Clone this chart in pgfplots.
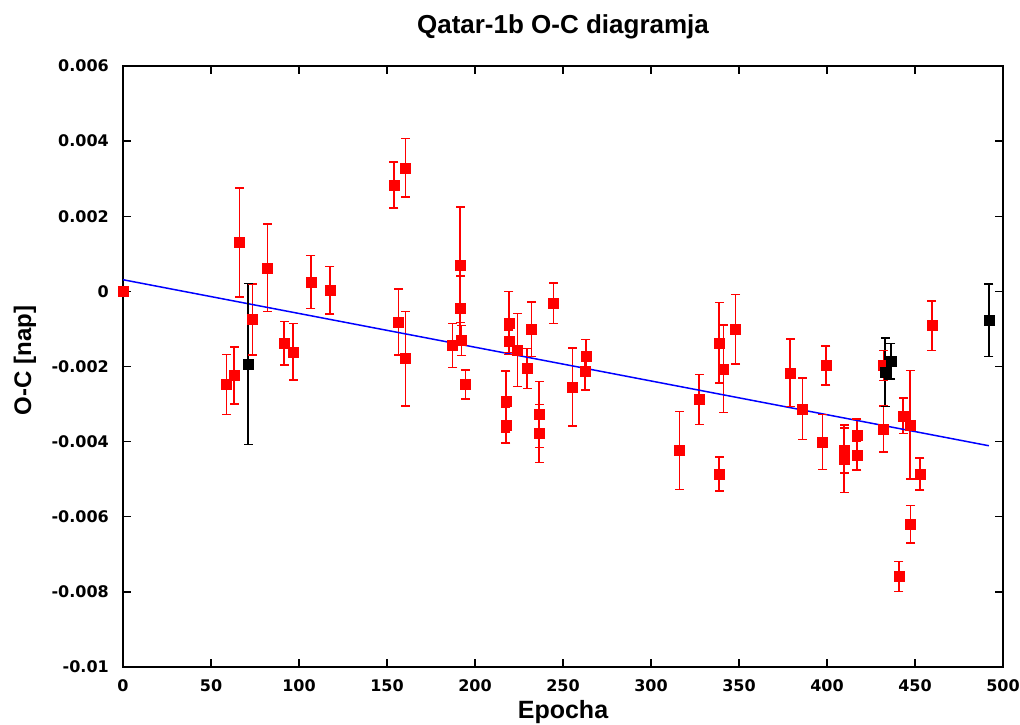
\documentclass[border=0pt]{standalone}
\usepackage{pgfplots}
\usepackage{pgfplotstable}
\pgfplotsset{compat=1.18}
\usepackage{fontspec}
\setmainfont{Liberation Sans}
\newfontfamily\dejavu{DejaVu Sans}

\pgfplotstableread{
x y e
0 0 0.0001
66.1 0.0013 0.00145
82 0.00063 0.00116
106.8 0.00025 0.00071
117.6 0.00003 0.00063
73.5 -0.00075 0.00095
91.5 -0.00138 0.00058
96.6 -0.00161 0.00075
58.9 -0.00248 0.0008
63.1 -0.00224 0.00076
153.9 0.00283 0.00061
160.4 0.00329 0.00078
156.6 -0.00082 0.00088
160.4 -0.00179 0.00126
191.5 0.00071 0.00154
191.5 -0.00046 0.00087
192.4 -0.00131 0.0004
187.3 -0.00144 0.00059
194.7 -0.00248 0.00039
219.3 -0.00084 0.00084
219.3 -0.00133 0.0003
224.2 -0.00156 0.00097
229.7 -0.00205 0.00053
232.2 -0.00101 0.00073
244.5 -0.00032 0.00054
217.6 -0.00293 0.00081
217.6 -0.00356 0.00048
236.4 -0.00328 0.00088
236.4 -0.00378 0.00077
255.3 -0.00255 0.00104
263 -0.00172 0.00044
262.5 -0.00212 0.0005
316.1 -0.00424 0.00104
327.3 -0.00288 0.00067
338.8 -0.00137 0.00107
341.1 -0.00206 0.00117
338.8 -0.00486 0.00045
348.1 -0.00101 0.00093
379 -0.00217 0.0009
386 -0.00313 0.00082
399.3 -0.00197 0.00052
397.5 -0.00401 0.00073
409.7 -0.00424 0.0006
409.7 -0.00446 0.0009
416.9 -0.00382 0.00042
416.9 -0.00437 0.00038
432 -0.00366 0.00061
432 -0.00197 0.0004
443.3 -0.00331 0.00047
447.2 -0.00355 0.00144
452.8 -0.00486 0.00043
447.5 -0.0062 0.0005
440.9 -0.00759 0.0004
459.5 -0.00091 0.00066
}\reddata

\pgfplotstableread{
x y e
71.2 -0.00193 0.00214
433 -0.00215 0.00091
436.2 -0.00186 0.00047
492 -0.00077 0.00096
}\blackdata

\begin{document}
\begin{tikzpicture}
\useasboundingbox (-123pt,-58pt) rectangle (897pt,667pt);
\begin{axis}[
  at={(0,0)}, anchor=south west,
  scale only axis, width=880pt, height=601pt,
  xmin=0, xmax=500, ymin=-0.01, ymax=0.006,
  clip=false,
  xtick={0,50,100,150,200,250,300,350,400,450,500},
  xticklabels={0,50,100,150,200,250,300,350,400,450,500},
  ytick={-0.01,-0.008,-0.006,-0.004,-0.002,0,0.002,0.004,0.006},
  yticklabels={-0.01,-0.008,-0.006,-0.004,-0.002,0,0.002,0.004,0.006},
  scaled y ticks=false, scaled x ticks=false,
  tick align=inside,
  major tick length=8pt,
  major tick style={black, line width=1.3pt},
  axis line style={black, line width=1.6pt},
  xticklabel style={font=\dejavu\bfseries\fontsize{16}{19}\selectfont, inner sep=0pt, anchor=north, yshift=-12pt},
  yticklabel style={font=\dejavu\bfseries\fontsize{16}{19}\selectfont, inner sep=0pt, anchor=east, xshift=-14pt},
  title={Qatar-1b O-C diagramja},
  title style={font=\bfseries\fontsize{26}{30}\selectfont, at={(axis description cs:0.5,1.0433)}, anchor=base, inner sep=0pt},
  xlabel={Epocha},
  xlabel style={font=\bfseries\fontsize{25}{30}\selectfont, at={(axis description cs:0.5,-0.0849)}, anchor=base, inner sep=0pt},
  ylabel={O-C [nap]},
  ylabel style={font=\bfseries\fontsize{24}{30}\selectfont, at={(axis description cs:-0.1114,0.51)}, anchor=center, inner sep=0pt},
]
% red error bars and caps
\addplot[only marks, mark=none, red,
  error bars/.cd, y dir=both, y explicit, error mark=none,
  error bar style={red, line width=1.6pt}]
  table[x=x, y=y, y error=e] {\reddata};
\addplot[only marks, mark=-, red, mark size=4.5pt, mark options={line width=1.5pt}]
  table[x=x, y expr=\thisrow{y}+\thisrow{e}] {\reddata};
\addplot[only marks, mark=-, red, mark size=4.5pt, mark options={line width=1.5pt}]
  table[x=x, y expr=\thisrow{y}-\thisrow{e}] {\reddata};
\addplot[only marks, mark=square*, red, mark options={draw=red, fill=red}, mark size=5pt]
  table[x=x, y=y] {\reddata};
% fit line
\addplot[blue, line width=1.5pt] coordinates {(0,0.00031) (492,-0.00411)};
% black points
\addplot[only marks, mark=none, black,
  error bars/.cd, y dir=both, y explicit, error mark=none,
  error bar style={black, line width=1.8pt}]
  table[x=x, y=y, y error=e] {\blackdata};
\addplot[only marks, mark=-, black, mark size=4.5pt, mark options={line width=1.5pt}]
  table[x=x, y expr=\thisrow{y}+\thisrow{e}] {\blackdata};
\addplot[only marks, mark=-, black, mark size=4.5pt, mark options={line width=1.5pt}]
  table[x=x, y expr=\thisrow{y}-\thisrow{e}] {\blackdata};
\addplot[only marks, mark=square*, black, mark options={draw=black, fill=black}, mark size=5pt]
  table[x=x, y=y] {\blackdata};
\end{axis}
\end{tikzpicture}
\end{document}
